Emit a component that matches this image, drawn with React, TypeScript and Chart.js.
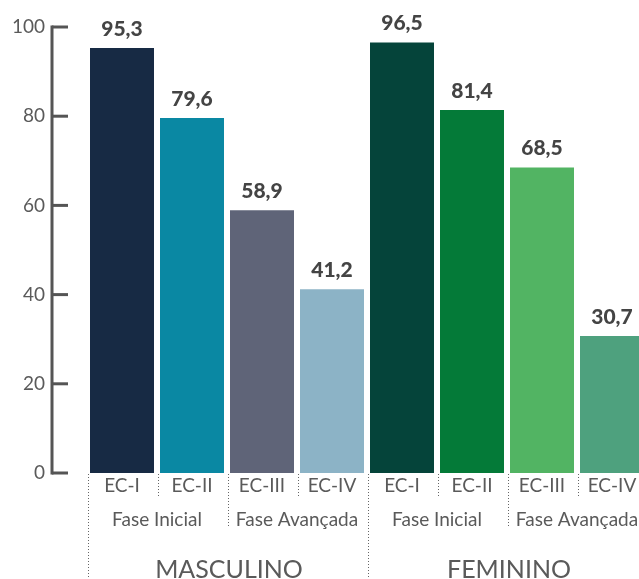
import React, { useEffect, useRef } from "react";
import { Chart, registerables } from "chart.js";

Chart.register(...registerables);

// Stage of each bar, the phase pairs under them and the two sex groups
const stages = ["EC-I", "EC-II", "EC-III", "EC-IV", "EC-I", "EC-II", "EC-III", "EC-IV"];
const phases = ["Fase Inicial", "Fase Avançada", "Fase Inicial", "Fase Avançada"];
const groups = ["MASCULINO", "FEMININO"];
const values = [95.3, 79.6, 58.9, 41.2, 96.5, 81.4, 68.5, 30.7];
const barColors = ["#172a44", "#0a88a3", "#5f6478", "#8cb3c6", "#05443a", "#047a38", "#52b463", "#4ea17e"];
const yTicks = [0, 20, 40, 60, 80, 100];

const fmt = (v: number) => v.toFixed(1).replace(".", ",");

const decorations = {
  id: "decorations",
  afterDraw(chart: any) {
    const { ctx, chartArea } = chart;
    const ys = chart.scales.y;
    const xs = chart.scales.x;
    const px = (i: number) => xs.getPixelForValue(i);
    const bottom = chartArea.bottom;
    ctx.save();

    // y axis with ticks pointing into the plot
    const axisX = chartArea.left - 35;
    ctx.strokeStyle = "#555";
    ctx.lineWidth = 3;
    ctx.lineCap = "butt";
    ctx.beginPath();
    ctx.moveTo(axisX, ys.getPixelForValue(100) - 1.5);
    ctx.lineTo(axisX, ys.getPixelForValue(0) + 1.5);
    ctx.stroke();
    ctx.font = "400 19px Lato";
    ctx.fillStyle = "#5a5a5a";
    ctx.textAlign = "right";
    ctx.textBaseline = "middle";
    yTicks.forEach((v) => {
      const y = ys.getPixelForValue(v);
      ctx.beginPath();
      ctx.moveTo(axisX, y);
      ctx.lineTo(axisX + 16, y);
      ctx.stroke();
      ctx.fillText(String(v), axisX - 7, y);
    });

    // value labels above the bars
    const meta = chart.getDatasetMeta(0);
    ctx.font = "900 21px Lato";
    ctx.fillStyle = "#444";
    ctx.textAlign = "center";
    meta.data.forEach((bar: any, i: number) => {
      ctx.fillText(fmt(values[i]), bar.x, bar.y - 19);
    });

    // dotted separators
    ctx.strokeStyle = "#666";
    ctx.lineWidth = 1;
    ctx.setLineDash([1, 2]);
    stages.forEach((_, i) => {
      const x = Math.round(px(i) - 34) + 0.5;
      const end = i % 4 === 0 ? chart.height : i % 2 === 0 ? bottom + 55 : bottom + 24;
      ctx.beginPath();
      ctx.moveTo(x, bottom + 1);
      ctx.lineTo(x, end);
      ctx.stroke();
    });
    ctx.setLineDash([]);

    // stage, phase and group labels
    ctx.fillStyle = "#5a5a5a";
    ctx.font = "400 19px Lato";
    stages.forEach((s, i) => ctx.fillText(s, px(i), bottom + 13));
    phases.forEach((p, k) => ctx.fillText(p, (px(2 * k) + px(2 * k + 1)) / 2, bottom + 47));
    ctx.font = "400 25px Lato";
    ctx.textBaseline = "alphabetic";
    groups.forEach((g, k) => ctx.fillText(g, (px(4 * k + 1) + px(4 * k + 2)) / 2 + 2, bottom + 105));

    ctx.restore();
  },
};

export default function App() {
  const ref = useRef<HTMLCanvasElement>(null);

  useEffect(() => {
    if (!ref.current) return;
    const chart = new Chart(ref.current, {
      type: "bar",
      data: {
        labels: stages,
        datasets: [
          {
            data: values,
            backgroundColor: barColors,
            categoryPercentage: 1,
            barPercentage: 64 / 70,
          },
        ],
      },
      options: {
        responsive: false,
        animation: false,
        devicePixelRatio: 1,
        layout: { padding: { left: 87, right: 13, top: 27, bottom: 106 } },
        scales: {
          x: { display: false },
          y: { display: false, min: 0, max: 100 },
        },
        plugins: {
          legend: { display: false },
          tooltip: { enabled: false },
        },
      },
      plugins: [decorations],
    });
    return () => chart.destroy();
  }, []);

  return (
    <div style={{ position: "fixed", left: 0, top: 0, width: 639, height: 579, overflow: "hidden", background: "#fff" }}>
      <canvas ref={ref} width={660} height={579} style={{ display: "block" }} />
    </div>
  );
}
